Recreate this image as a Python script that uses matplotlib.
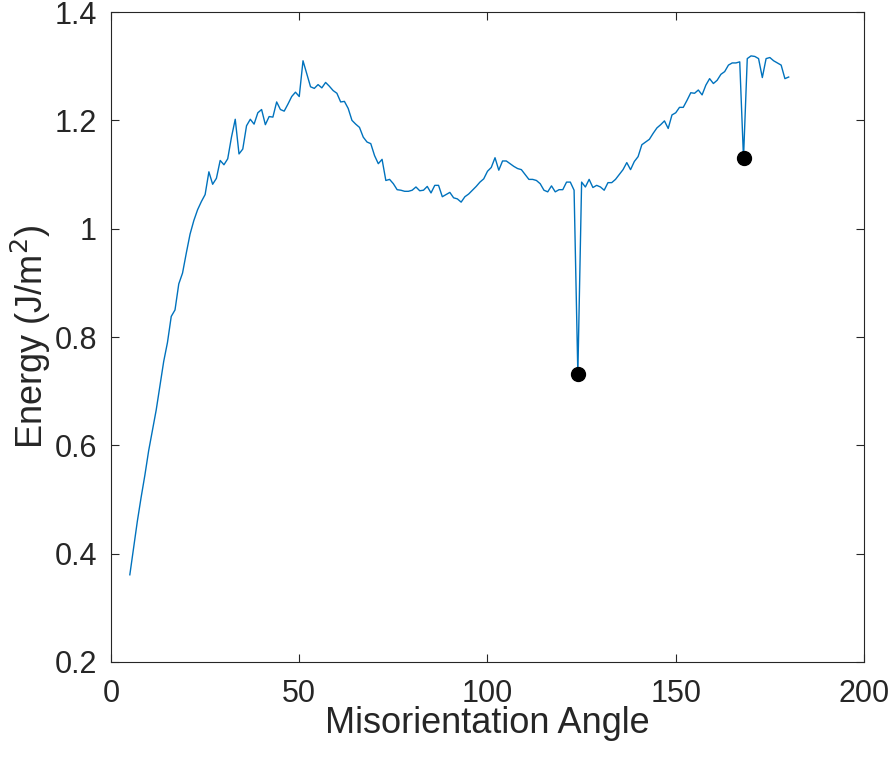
import numpy as np
import matplotlib
matplotlib.use('Agg')
import matplotlib.pyplot as plt

plt.rcParams['font.family'] = ['Liberation Sans', 'DejaVu Sans']

# misorientation angle (deg), 1 degree steps
angle = np.arange(5, 181)
energy = [
    0.361, 0.41, 0.46, 0.504, 0.545, 0.59, 0.627, 0.665, 0.71, 0.755,
    0.79, 0.838, 0.850, 0.898, 0.918, 0.955, 0.99, 1.015, 1.035, 1.05,
    1.063, 1.105, 1.082, 1.093, 1.126, 1.118, 1.129, 1.169, 1.202, 1.138,
    1.147, 1.190, 1.202, 1.193, 1.214, 1.220, 1.192, 1.207, 1.206, 1.234,
    1.220, 1.217, 1.230, 1.244, 1.252, 1.244, 1.310, 1.286, 1.262, 1.259,
    1.266, 1.260, 1.270, 1.263, 1.255, 1.250, 1.234, 1.235, 1.222, 1.200,
    1.193, 1.187, 1.169, 1.160, 1.157, 1.135, 1.120, 1.128, 1.089, 1.091,
    1.083, 1.072, 1.071, 1.069, 1.069, 1.071, 1.077, 1.070, 1.071, 1.078,
    1.066, 1.080, 1.080, 1.059, 1.063, 1.067, 1.057, 1.055, 1.049, 1.059,
    1.064, 1.071, 1.078, 1.086, 1.092, 1.106, 1.113, 1.131, 1.108, 1.125,
    1.125, 1.120, 1.115, 1.111, 1.109, 1.100, 1.091, 1.091, 1.089, 1.083,
    1.071, 1.068, 1.079, 1.068, 1.072, 1.072, 1.086, 1.086, 1.071, 0.732,
    1.086, 1.077, 1.091, 1.076, 1.080, 1.077, 1.071, 1.085, 1.085, 1.091,
    1.100, 1.109, 1.122, 1.109, 1.124, 1.133, 1.155, 1.160, 1.165, 1.176,
    1.186, 1.192, 1.199, 1.185, 1.210, 1.214, 1.224, 1.224, 1.237, 1.251,
    1.250, 1.256, 1.247, 1.265, 1.277, 1.268, 1.274, 1.285, 1.290, 1.302,
    1.306, 1.306, 1.308, 1.130, 1.314, 1.319, 1.318, 1.314, 1.279, 1.314,
    1.316, 1.310, 1.306, 1.302, 1.277, 1.280,
]
energy = np.array(energy)

# the two cusps marked with dots
cusp_angle = [124, 168]
cusp_energy = [energy[angle == a][0] for a in cusp_angle]

xticks = [0, 50, 100, 150, 200]
yticks = [0.2, 0.4, 0.6, 0.8, 1.0, 1.2, 1.4]
ylabels = ['0.2', '0.4', '0.6', '0.8', '1', '1.2', '1.4']

dark = '#262626'

fig = plt.figure(figsize=(8.93, 7.61), dpi=100)
ax = fig.add_axes([0.1243, 0.1301, 0.8432, 0.8541])

ax.plot(angle, energy, color='#0072BD', lw=1.0)
ax.plot(cusp_angle, cusp_energy, 'o', color='black', ms=10)

ax.set_xlim(0, 200)
ax.set_ylim(0.2, 1.4)
ax.set_xticks(xticks)
ax.set_yticks(yticks)
ax.set_yticklabels(ylabels)
ax.tick_params(direction='in', length=6, width=0.8, colors=dark,
               labelsize=22, top=True, right=True)
ax.tick_params(axis='y', pad=10)
ax.tick_params(axis='x', pad=12)
for s in ax.spines.values():
    s.set_color(dark)
    s.set_linewidth(0.8)

ax.set_xlabel('Misorientation Angle', fontsize=26, color=dark, labelpad=-2)
ax.set_ylabel('Energy (J/m$^2$)', fontsize=26, color=dark, labelpad=1)

fig.savefig('out.png', dpi=100)
